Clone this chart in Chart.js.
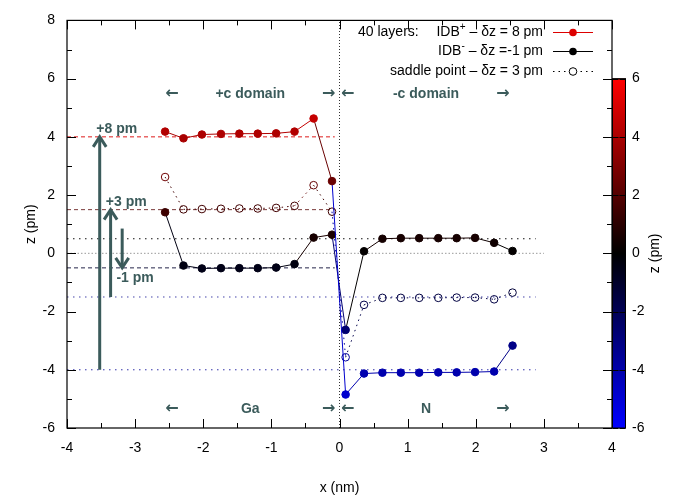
<!DOCTYPE html>
<html><head><meta charset="utf-8">
<script src="https://cdn.jsdelivr.net/npm/chart.js@4.4.1/dist/chart.umd.min.js"></script>
<style>html,body{margin:0;padding:0;background:#fff}#wrap{width:678px;height:495px}</style>
</head><body><div id="wrap"><canvas id="c" width="678" height="495"></canvas></div>
<script>
// ---- data ----
const layerX = [-2.56, -2.29, -2.02, -1.74, -1.47, -1.20, -0.93, -0.66, -0.38, -0.11,
                 0.09, 0.36, 0.63, 0.90, 1.17, 1.45, 1.72, 1.99, 2.27, 2.54];
const idbPlus = [4.18, 3.95, 4.08, 4.10, 4.11, 4.11, 4.12, 4.18, 4.63, 2.48,
                 -4.85, -4.13, -4.10, -4.10, -4.10, -4.09, -4.09, -4.08, -4.06, -3.17];
const idbMinus = [1.41, -0.42, -0.52, -0.51, -0.51, -0.51, -0.49, -0.37, 0.54, 0.64,
                  -2.63, 0.07, 0.50, 0.52, 0.52, 0.52, 0.52, 0.53, 0.36, 0.08];
const saddle = [2.62, 1.51, 1.52, 1.53, 1.54, 1.54, 1.56, 1.63, 2.34, 1.43,
                -3.57, -1.77, -1.53, -1.53, -1.53, -1.53, -1.52, -1.52, -1.58, -1.35];
const seriesLabels = ["IDB+ \u2013 \u03b4z = 8 pm", "IDB- \u2013 \u03b4z =-1 pm", "saddle point \u2013 \u03b4z = 3 pm"];

// reference levels (z) and x extents
const refLevels = [4, 1.5, -0.5, 0.5, 0, -1.5, -4];
const refStart  = [-4, -4, -4, -4, -4, -4, -4];
const refEnd    = [-0.07, -0.07, -0.07, 2.88, 3.0, 2.88, 2.88];

// annotation arrows (x, from z, to z) and labels
const arrowX    = [-3.52, -3.36, -3.19];
const arrowFrom = [-4, -1.5, 0.85];
const arrowTo   = [4, 1.5, -0.5];
const arrowLabels = ["+8 pm", "+3 pm", "-1 pm"];
const arrowLabelX = [-3.27, -3.13, -3.0];
const arrowLabelZ = [4.26, 1.77, -0.84];

// domain annotations
const domainX = [-2.46, -1.31, -0.16, 0.12, 1.27, 2.40];
const topTexts = ["\u2190", "+c domain", "\u2192", "\u2190", "-c domain", "\u2192"];
const bottomTexts = ["\u2190", "Ga", "\u2192", "\u2190", "N", "\u2192"];
const topTextZ = 5.48, bottomTextZ = -5.35;

// axis ticks
const xTicks = [-4, -3, -2, -1, 0, 1, 2, 3, 4];
const yTicks = [-6, -4, -2, 0, 2, 4, 6, 8];
const cbTicks = [-6, -4, -2, 0, 2, 4, 6];

// ---- styling ----
const FONT = "'Liberation Sans', Arial, Helvetica, 'DejaVu Sans', sans-serif";
const ANN = "#3b5b5b";
const refColors = ["#dd1a1a", "#7a3a3a", "#24244a", "#111111", "#9a9a9a", "#4444aa", "#3333aa"];
const refDash = [[4,3],[4,3],[4,3],[1.5,4.5],[1.5,2],[1.5,4.5],[1.5,4.5]];

function cmap(z){
  const t = Math.max(-6, Math.min(6, z)) / 6;
  if (t >= 0) return `rgb(${Math.round(255*t)},0,0)`;
  return `rgb(0,0,${Math.round(-255*t)})`;
}
function pts(xs, ys){ return xs.map((x,i)=>({x:x, y:ys[i]})); }

const datasets = [];
refLevels.forEach((z,i)=>{
  datasets.push({data:[{x:refStart[i], y:z},{x:refEnd[i], y:z}], borderColor:refColors[i],
    borderWidth:1, borderDash:refDash[i], pointRadius:0, order:20, fill:false});
});
datasets.push({data:[{x:0,y:-6},{x:0,y:8}], borderColor:"#333", borderWidth:1, borderDash:[1,2],
  pointRadius:0, order:19});

function series(vals, open, dash, ord){
  return {
    data: pts(layerX, vals), order: ord, borderWidth: 1, borderDash: dash,
    pointRadius: 3.8, pointBorderWidth: 1, pointHoverRadius: 3.8,
    pointBackgroundColor: open ? 'rgba(0,0,0,0)' : (c => cmap(vals[c.dataIndex])),
    pointBorderColor: c => cmap(vals[c.dataIndex]),
    borderColor: '#000',
    segment: { borderColor: c => cmap(vals[c.p1DataIndex]), borderDash: () => dash }
  };
}
datasets.push(series(saddle, true, [1.5,4], 3));
datasets.push(series(idbMinus, false, [], 2));
datasets.push(series(idbPlus, false, [], 1));

const ARROWS = new Set(["\u2190", "\u2192"]);

const deco = {
  id: 'deco',
  afterDatasetsDraw(chart){
    const ctx = chart.ctx, xs = chart.scales.x, ys = chart.scales.y;
    ctx.save();
    // arrows
    ctx.strokeStyle = ANN; ctx.lineWidth = 3; ctx.lineCap = 'butt'; ctx.lineJoin = 'miter';
    arrowX.forEach((ax,i)=>{
      const x = xs.getPixelForValue(ax), y0 = ys.getPixelForValue(arrowFrom[i]), y1 = ys.getPixelForValue(arrowTo[i]);
      const dir = Math.sign(y1 - y0);
      ctx.beginPath(); ctx.moveTo(x, y0); ctx.lineTo(x, y1 - dir*1); ctx.stroke();
      ctx.beginPath(); ctx.moveTo(x-6.5, y1 - dir*10); ctx.lineTo(x, y1); ctx.lineTo(x+6.5, y1 - dir*10); ctx.stroke();
    });
    ctx.fillStyle = ANN; ctx.font = `bold 14px ${FONT}`; ctx.textAlign = 'center'; ctx.textBaseline = 'middle';
    arrowLabels.forEach((t,i)=> ctx.fillText(t, xs.getPixelForValue(arrowLabelX[i]), ys.getPixelForValue(arrowLabelZ[i])));
    function ann(t, x, y){
      ctx.font = ARROWS.has(t) ? `bold 16px 'DejaVu Sans', sans-serif` : `bold 14px ${FONT}`;
      ctx.fillText(t, x, y);
    }
    domainX.forEach((dx,i)=>{
      ann(topTexts[i], xs.getPixelForValue(dx), ys.getPixelForValue(topTextZ));
      ann(bottomTexts[i], xs.getPixelForValue(dx), ys.getPixelForValue(bottomTextZ));
    });
    // legend
    const rx = 543, rows = [32, 51, 71];
    ctx.fillStyle = '#000'; ctx.textBaseline = 'middle';
    ctx.font = `14px ${FONT}`; ctx.textAlign = 'left';
    ctx.fillText("40 layers:", 358, rows[0]);
    function runsRight(runs, y){
      let x = rx;
      for (let k = runs.length-1; k >= 0; k--){
        const r = runs[k]; ctx.font = r.f; ctx.textAlign = 'right';
        ctx.fillText(r.t, x, y + (r.dy||0)); x -= ctx.measureText(r.t).width;
      }
    }
    const nf = `14px ${FONT}`, sf = `10px ${FONT}`;
    runsRight([{t:"IDB",f:nf},{t:"+",f:sf,dy:-5},{t:" \u2013 \u03b4z = 8 pm",f:nf}], rows[0]);
    runsRight([{t:"IDB",f:nf},{t:"-",f:sf,dy:-5},{t:" \u2013 \u03b4z =-1 pm",f:nf}], rows[1]);
    runsRight([{t:seriesLabels[2],f:nf}], rows[2]);
    const lx0 = 553, lx1 = 593, lxm = 573;
    const legCol = ['#dd0000', '#000', '#000'];
    rows.forEach((y,i)=>{
      ctx.strokeStyle = legCol[i]; ctx.lineWidth = 1;
      ctx.setLineDash(i===2 ? [1.5,4] : []);
      ctx.beginPath(); ctx.moveTo(lx0, y+0.5); ctx.lineTo(lx1, y+0.5); ctx.stroke();
      ctx.setLineDash([]);
      ctx.beginPath(); ctx.arc(lxm, y+0.5, 3.8, 0, Math.PI*2);
      if (i===2){ ctx.fillStyle='#fff'; ctx.fill(); ctx.stroke(); }
      else { ctx.fillStyle = legCol[i]; ctx.fill(); }
    });
    ctx.restore();
  },
  afterDraw(chart){
    const ctx = chart.ctx, xs = chart.scales.x, ys = chart.scales.y, a = chart.chartArea;
    ctx.save();
    ctx.strokeStyle = '#000'; ctx.lineWidth = 1.2;
    ctx.strokeRect(a.left, a.top, a.right - a.left, a.bottom - a.top);
    ctx.lineWidth = 1;
    ctx.beginPath();
    for (let v = -4; v <= 4.001; v += 0.5){
      const x = Math.round(xs.getPixelForValue(v)) + 0.5;
      const L = Math.abs(v - Math.round(v)) < 1e-6 ? 9 : 5;
      ctx.moveTo(x, a.bottom); ctx.lineTo(x, a.bottom - L);
      ctx.moveTo(x, a.top); ctx.lineTo(x, a.top + L);
    }
    for (let v = -6; v <= 8.001; v += 1){
      const y = Math.round(ys.getPixelForValue(v)) + 0.5;
      const L = (Math.round(v) % 2 === 0) ? 9 : 5;
      ctx.moveTo(a.left, y); ctx.lineTo(a.left + L, y);
      ctx.moveTo(a.right, y); ctx.lineTo(a.right - L, y);
    }
    ctx.stroke();
    // colorbar
    const cx0 = a.right + 0.5, cx1 = a.right + 13.5;
    const cyTop = ys.getPixelForValue(6), cyBot = ys.getPixelForValue(-6);
    const g = ctx.createLinearGradient(0, cyTop, 0, cyBot);
    g.addColorStop(0, '#ff0000'); g.addColorStop(0.5, '#000000'); g.addColorStop(1, '#0000ff');
    ctx.fillStyle = g; ctx.fillRect(cx0, cyTop, cx1 - cx0, cyBot - cyTop);
    ctx.strokeStyle = '#000'; ctx.lineWidth = 1;
    ctx.strokeRect(cx0, cyTop, cx1 - cx0, cyBot - cyTop);
    ctx.beginPath();
    cbTicks.forEach(v=>{
      const y = Math.round(ys.getPixelForValue(v)) + 0.5;
      ctx.moveTo(cx0, y); ctx.lineTo(cx0 + 6, y);
      ctx.moveTo(cx1, y); ctx.lineTo(cx1 - 6, y);
    });
    ctx.stroke();
    ctx.fillStyle = '#000'; ctx.font = `14px ${FONT}`; ctx.textAlign = 'left'; ctx.textBaseline = 'middle';
    cbTicks.forEach(v=> ctx.fillText(String(v), 632, ys.getPixelForValue(v)));
    ctx.translate(655, (cyTop + cyBot)/2 + 0); ctx.rotate(-Math.PI/2);
    ctx.textAlign = 'center'; ctx.fillText("z (pm)", 0, 0);
    ctx.restore();
  }
};

new Chart(document.getElementById('c'), {
  type: 'line',
  data: { datasets },
  options: {
    responsive: false, animation: false, devicePixelRatio: 1,
    layout: { padding: { top: 17, right: 66, left: 0, bottom: 0 } },
    plugins: { legend: { display: false }, tooltip: { enabled: false } },
    events: [],
    scales: {
      x: {
        type: 'linear', min: -4, max: 4,
        afterBuildTicks: s => { s.ticks = xTicks.map(v => ({value: v})); },
        afterFit: s => { s.height = 67; },
        grid: { display: false, drawTicks: false }, border: { display: false },
        ticks: { color: '#000', font: { family: FONT, size: 14 }, padding: 12, maxRotation: 0,
                 callback: v => String(v) },
        title: { display: true, text: 'x (nm)', color: '#000', font: { family: FONT, size: 14, lineHeight: 1.05 },
                 padding: { top: 0, bottom: 0 } }
      },
      y: {
        type: 'linear', min: -6, max: 8,
        afterBuildTicks: s => { s.ticks = yTicks.map(v => ({value: v})); },
        afterFit: s => { s.width = 67; },
        grid: { display: false, drawTicks: false }, border: { display: false },
        ticks: { color: '#000', font: { family: FONT, size: 14 }, padding: 12,
                 callback: v => String(v) },
        title: { display: true, text: 'z (pm)', color: '#000', font: { family: FONT, size: 14 },
                 padding: { top: 23, bottom: 0 } }
      }
    }
  },
  plugins: [deco]
});
</script>
</body></html>
